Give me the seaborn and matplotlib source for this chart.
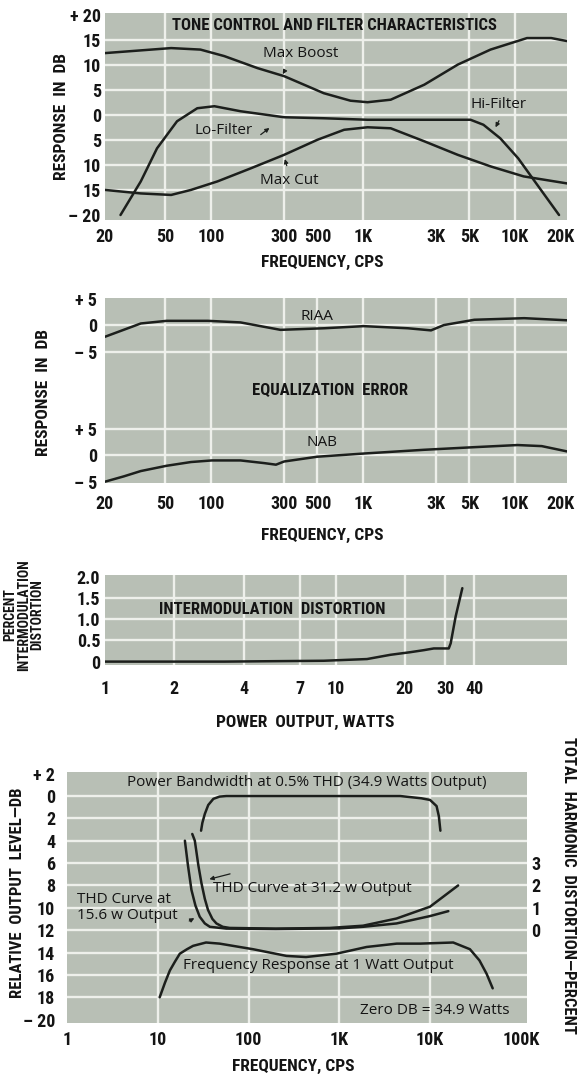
import matplotlib
matplotlib.use('Agg')
import matplotlib.pyplot as plt
import seaborn as sns
import pandas as pd

# ===============================
# Data
# ===============================
# tone control and filter characteristics
boost_hz = [20, 54.5, 85, 122, 202, 302, 551, 827, 1070, 1520, 2530, 4200, 6900, 12000, 17300, 22000]
boost_db = [12.3, 13.3, 13.0, 11.7, 9.3, 7.7, 4.3, 2.8, 2.5, 3.0, 6.0, 10.0, 13.0, 15.3, 15.3, 14.7]
filt_hz = [25.3, 34.4, 44, 59.6, 81, 105, 156, 302, 551, 1070, 2530, 5100, 6200, 8000, 10500, 13500, 19500]
filt_db = [-20.0, -13.3, -6.7, -1.3, 1.3, 1.7, 0.7, -0.5, -0.7, -1.0, -1.0, -1.0, -2.0, -4.7, -8.7, -13.3, -20.0]
cut_hz = [20, 34.4, 54.5, 73.6, 110, 182, 302, 500, 750, 1070, 1520, 2530, 4200, 6900, 11400, 22000]
cut_db = [-15.0, -15.7, -16.0, -15.0, -13.3, -10.7, -8.0, -5.0, -3.0, -2.5, -2.7, -5.3, -8.0, -10.3, -12.3, -13.7]

# equalization error
riaa_hz = [20, 34.4, 51, 95, 156, 286, 555, 1010, 1970, 2800, 3400, 5400, 11500, 22000]
riaa_db = [-2.2, 0.3, 0.8, 0.8, 0.5, -0.9, -0.6, -0.2, -0.6, -1.0, 0.0, 1.0, 1.3, 0.9]
nab_hz = [20, 26.6, 34.4, 51, 73.6, 101, 156, 223, 267, 302, 499, 1010, 2500, 5400, 10400, 15000, 22000]
nab_db = [-5.0, -4.0, -3.0, -2.0, -1.3, -1.0, -1.0, -1.5, -1.8, -1.2, -0.3, 0.3, 1.0, 1.5, 1.9, 1.7, 0.7]
RIAA_OFFSET = 24.5  # RIAA scale sits above the NAB scale on the same axes

# intermodulation distortion
watts = [1, 3.3, 8.9, 13.7, 17.3, 21, 24.2, 26.7, 31.0, 31.6, 33.2, 35.5]
imd_pct = [0.0, 0.0, 0.02, 0.06, 0.16, 0.22, 0.27, 0.31, 0.31, 0.43, 1.06, 1.73]

# power bandwidth / THD / 1 W response
pb_hz = [30, 31, 33, 36, 41, 48, 57, 100, 1000, 4700, 8000, 10000, 11800, 12500, 13000]
pb_db = [-3.1, -2.4, -1.6, -0.8, -0.25, -0.05, 0, 0, 0, 0, -0.2, -0.35, -0.9, -1.8, -3.1]
thd15_hz = [19.9, 21.5, 23.5, 26, 29, 33, 37.5, 57, 200, 1000, 1830, 4270, 10000, 15900]
thd15_pct = [4.0, 2.9, 1.8, 1.1, 0.6, 0.3, 0.15, 0.07, 0.05, 0.08, 0.15, 0.3, 0.63, 0.85]
thd31_hz = [24, 25.6, 28, 30.3, 33, 35.8, 40, 44.3, 52, 62, 200, 787, 1830, 4270, 10000, 20400]
thd31_pct = [4.3, 4.0, 2.9, 2.1, 1.4, 0.9, 0.5, 0.3, 0.15, 0.1, 0.07, 0.1, 0.2, 0.52, 1.05, 2.0]
resp_hz = [10.5, 12, 13.6, 15.5, 17.5, 21, 24.5, 34, 48, 112, 262, 430, 930, 2000, 4300, 7800, 18000, 27500, 35000, 42000, 49000]
resp_db = [-18.0, -16.7, -15.6, -14.8, -14.1, -13.7, -13.4, -13.1, -13.2, -13.7, -14.3, -14.4, -14.1, -13.5, -13.2, -13.2, -13.1, -13.7, -14.7, -15.9, -17.2]

# tick labels
freq_ticks = [20, 50, 100, 300, 500, 1000, 3000, 5000, 10000, 20000]
freq_labels = ['20', '50', '100', '300', '500', '1K', '3K', '5K', '10K', '20K']
tone_ticks = [20, 15, 10, 5, 0, -5, -10, -15, -20]
tone_labels = ['+ 20', '15', '10', '5', '0', '5', '10', '15', '– 20']
eq_ticks = [-5, 0, 5, RIAA_OFFSET - 5, RIAA_OFFSET, RIAA_OFFSET + 5]
eq_labels = ['– 5', '0', '+ 5', '– 5', '0', '+ 5']
watt_ticks = [1, 2, 4, 7, 10, 20, 30, 40]
watt_labels = ['1', '2', '4', '7', '10', '20', '30', '40']
imd_ticks = [0, 0.5, 1.0, 1.5, 2.0]
imd_labels = ['0', '0.5', '1.0', '1.5', '2.0']
pb_xticks = [1, 10, 100, 1000, 10000, 100000]
pb_xlabels = ['1', '10', '100', '1K', '10K', '100K']
level_ticks = [2, 0, -2, -4, -6, -8, -10, -12, -14, -16, -18, -20]
level_labels = ['+ 2', '0', '2', '4', '6', '8', '10', '12', '14', '16', '18', '– 20']
thd_ticks = [0, 1, 2, 3]

# ===============================
# Style
# ===============================
sns.set_style('white')
BOLD = ['Roboto Condensed', 'Liberation Sans Narrow', 'Roboto', 'DejaVu Sans']
SOFT = ['Open Sans', 'DejaVu Sans']
plt.rcParams['font.family'] = BOLD
plt.rcParams['font.weight'] = 'bold'

BG = '#b8bfb5'
GRID = '#eef0eb'
INK = '#1c1f1c'
TXT = '#141414'
FS_TICK = 13
FS_LAB = 12.5
FS_NOTE = 11
W, H = 577, 1078

fig = plt.figure(figsize=(W / 100, H / 100), dpi=100)
fig.patch.set_facecolor('white')


def px_axes(x0, y0, x1, y1):
    return fig.add_axes([x0 / W, 1 - y1 / H, (x1 - x0) / W, (y1 - y0) / H])


def frame(ax, vgrid, hgrid):
    ax.set_facecolor(BG)
    for s in ax.spines.values():
        s.set_visible(False)
    for v in vgrid:
        ax.axvline(v, color=GRID, lw=1.7, zorder=1)
    for h in hgrid:
        ax.axhline(h, color=GRID, lw=1.7, zorder=1)


def curve(ax, x, y):
    sns.lineplot(x=x, y=y, ax=ax, color=INK, lw=1.8, estimator=None, legend=False, zorder=3)


def ticks(ax, xt, xl, yt, yl, xpad, ypad):
    ax.set_xticks(xt)
    ax.set_xticklabels(xl, fontsize=FS_TICK, fontweight='bold', color=TXT)
    ax.set_yticks(yt)
    ax.set_yticklabels(yl, fontsize=FS_TICK, fontweight='bold', color=TXT)
    ax.minorticks_off()
    ax.tick_params(axis='x', length=0, pad=xpad)
    ax.tick_params(axis='y', length=0, pad=ypad)
    ax.set_xlabel('')
    ax.set_ylabel('')


def note(ax, s, x, y, **kw):
    kw.setdefault('ha', 'center')
    ax.text(x, y, s, fontsize=FS_NOTE, family=SOFT, fontweight='normal', color=TXT,
            va='center', zorder=4, **kw)


def arrow(ax, x0, y0, x1, y1):
    ax.annotate('', xy=(x1, y1), xytext=(x0, y0),
                arrowprops=dict(arrowstyle='-|>', color=INK, lw=0.9, mutation_scale=6), zorder=4)


def title(ax, s, x, y):
    ax.text(x, y, s, ha='center', va='center', fontsize=12, fontweight='bold',
            color=TXT, zorder=4)


# ===============================
# 1. Tone control and filters
# ===============================
ax1 = px_axes(105, 13, 567, 220)
ax1.set_xscale('log')
ax1.set_xlim(20, 22000)
ax1.set_ylim(-21, 20.3)
frame(ax1, [50, 100, 300, 1000, 5000, 10000], [15, 10, 5, 0, -5, -10, -15])
curve(ax1, boost_hz, boost_db)
curve(ax1, filt_hz, filt_db)
curve(ax1, cut_hz, cut_db)
ticks(ax1, freq_ticks, freq_labels, tone_ticks, tone_labels, 6, 3)
title(ax1, 'TONE CONTROL AND FILTER CHARACTERISTICS', 650, 17.8)
note(ax1, 'Max Boost', 388, 12.3)
note(ax1, 'Lo-Filter', 120, -3.2)
note(ax1, 'Max Cut', 325, -13.1)
note(ax1, 'Hi-Filter', 7800, 2.0)
arrow(ax1, 308, 9.0, 290, 7.6)
arrow(ax1, 205, -4.3, 250, -2.3)
arrow(ax1, 318, -10.7, 302, -8.3)
arrow(ax1, 8000, -0.7, 7300, -3.0)

# ===============================
# 2. Equalization error
# ===============================
ax2 = px_axes(105, 298, 567, 483)
ax2.set_xscale('log')
ax2.set_xlim(20, 22000)
ax2.set_ylim(-5.25, 29.6)
frame(ax2, [50, 100, 300, 500, 1000, 3000, 5000, 10000],
      [0, 5, RIAA_OFFSET - 5, RIAA_OFFSET])
curve(ax2, riaa_hz, [v + RIAA_OFFSET for v in riaa_db])
curve(ax2, nab_hz, nab_db)
ticks(ax2, freq_ticks, freq_labels, eq_ticks, eq_labels, 8.5, 5.5)
title(ax2, 'EQUALIZATION  ERROR', 610, 12.2)
note(ax2, 'RIAA', 500, RIAA_OFFSET + 1.6)
note(ax2, 'NAB', 540, 2.3)

# ===============================
# 3. Intermodulation distortion
# ===============================
ax3 = px_axes(105, 575, 567, 665)
ax3.set_xscale('log')
ax3.set_xlim(1, 101)
ax3.set_ylim(-0.08, 2.04)
frame(ax3, [2, 4, 7, 10, 20, 30, 40], [0.5, 1.0, 1.5])
curve(ax3, watts, imd_pct)
ticks(ax3, watt_ticks, watt_labels, imd_ticks, imd_labels, 11, 3.5)
title(ax3, 'INTERMODULATION  DISTORTION', 5.3, 1.22)

# ===============================
# 4. Power bandwidth, THD, 1 W response
# ===============================
ax4 = px_axes(67, 772, 527, 1023)
ax4.set_xscale('log')
ax4.set_xlim(1, 117000)
ax4.set_ylim(-20.3, 2.15)
frame(ax4, [10, 100, 1000, 10000], [0, -2, -4, -6, -8, -10, -12, -14, -16, -18])
curve(ax4, pb_hz, pb_db)
curve(ax4, resp_hz, resp_db)
ticks(ax4, pb_xticks, pb_xlabels, level_ticks, level_labels, 5.5, 8.5)

ax4r = ax4.twinx()
ax4r.set_ylim(-4.15, 7.07)
for s in ax4r.spines.values():
    s.set_visible(False)
curve(ax4r, thd15_hz, thd15_pct)
curve(ax4r, thd31_hz, thd31_pct)
ax4r.set_yticks(thd_ticks)
ax4r.set_yticklabels([str(t) for t in thd_ticks], fontsize=FS_TICK, fontweight='bold', color=TXT)
ax4r.tick_params(axis='y', length=0, pad=3)
ax4r.set_ylabel('')
ax4r.set_xlabel('')

note(ax4, 'Power Bandwidth at 0.5% THD (34.9 Watts Output)', 434, 1.25)
note(ax4, 'THD Curve at\n15.6 w Output', 1.28, -9.95, ha='left', linespacing=1.1)
note(ax4, 'THD Curve at 31.2 w Output', 40.5, -8.25, ha='left')
note(ax4, 'Frequency Response at 1 Watt Output', 18.9, -15.2, ha='left')
note(ax4, 'Zero DB = 34.9 Watts', 76000, -19.2, ha='right')
arrow(ax4, 67, -6.9, 34.6, -7.5)
arrow(ax4, 20.9, -11.3, 26.9, -10.8)

# ===============================
# Axis titles
# ===============================
def ftext(x, y, s, rot=0, size=FS_LAB, **kw):
    fig.text(x / W, 1 - y / H, s, rotation=rot, ha='center', va='center',
             fontsize=size, fontweight='bold', color=TXT, **kw)


ftext(322, 262, 'FREQUENCY, CPS')
ftext(322, 535, 'FREQUENCY, CPS')
ftext(305, 722, 'POWER  OUTPUT, WATTS')
ftext(293, 1066, 'FREQUENCY, CPS')
ftext(62, 117, 'RESPONSE  IN  DB', rot=90)
ftext(43, 392, 'RESPONSE  IN  DB', rot=90)
ftext(24, 615, 'PERCENT\nINTERMODULATION\nDISTORTION', rot=90, size=10, linespacing=0.95)
ftext(18, 893, 'RELATIVE  OUTPUT  LEVEL—DB', rot=90, size=12)
ftext(568, 885, 'TOTAL  HARMONIC  DISTORTION—PERCENT', rot=270, size=12)

fig.savefig('out.png', dpi=100, facecolor='white')
